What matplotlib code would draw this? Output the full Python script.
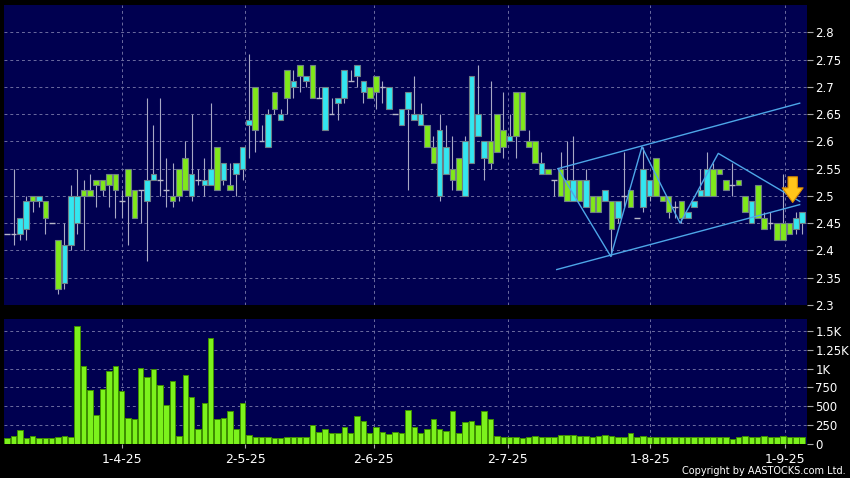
import matplotlib.pyplot as plt
import numpy as np

# daily candles (oldest first)
opens = [2.43, 2.43, 2.43, 2.44, 2.50, 2.49, 2.49, 2.45, 2.42, 2.34,
         2.41, 2.45, 2.51, 2.51, 2.53, 2.53, 2.54, 2.54, 2.49, 2.55,
         2.51, 2.51, 2.49, 2.53, 2.53, 2.51, 2.50, 2.55, 2.57, 2.50,
         2.53, 2.52, 2.52, 2.59, 2.53, 2.52, 2.54, 2.55, 2.63, 2.70,
         2.60, 2.59, 2.69, 2.64, 2.73, 2.70, 2.74, 2.71, 2.74, 2.68,
         2.62, 2.65, 2.67, 2.68, 2.71, 2.72, 2.69, 2.70, 2.72, 2.70,
         2.66, 2.65, 2.63, 2.66, 2.64, 2.63, 2.63, 2.59, 2.50, 2.54,
         2.55, 2.57, 2.50, 2.56, 2.61, 2.57, 2.60, 2.65, 2.62, 2.60,
         2.69, 2.69, 2.60, 2.60, 2.54, 2.55, 2.53, 2.55, 2.53, 2.49,
         2.53, 2.48, 2.50, 2.50, 2.49, 2.49, 2.46, 2.50, 2.51, 2.46,
         2.48, 2.50, 2.57, 2.50, 2.50, 2.48, 2.49, 2.46, 2.48, 2.50,
         2.50, 2.55, 2.55, 2.53, 2.52, 2.53, 2.50, 2.45, 2.52, 2.46,
         2.45, 2.45, 2.45, 2.45, 2.44, 2.45]
highs = [2.43, 2.55, 2.46, 2.50, 2.50, 2.50, 2.49, 2.45, 2.42, 2.45,
         2.52, 2.55, 2.53, 2.54, 2.53, 2.53, 2.54, 2.54, 2.51, 2.55,
         2.51, 2.51, 2.68, 2.63, 2.68, 2.57, 2.56, 2.55, 2.60, 2.65,
         2.55, 2.57, 2.67, 2.59, 2.56, 2.56, 2.56, 2.59, 2.76, 2.70,
         2.63, 2.66, 2.69, 2.66, 2.73, 2.73, 2.74, 2.72, 2.74, 2.70,
         2.70, 2.68, 2.68, 2.73, 2.73, 2.74, 2.71, 2.70, 2.72, 2.71,
         2.70, 2.65, 2.66, 2.69, 2.72, 2.67, 2.63, 2.61, 2.65, 2.63,
         2.61, 2.57, 2.61, 2.72, 2.74, 2.60, 2.71, 2.65, 2.69, 2.65,
         2.69, 2.69, 2.62, 2.60, 2.58, 2.55, 2.53, 2.58, 2.60, 2.61,
         2.53, 2.55, 2.50, 2.50, 2.51, 2.49, 2.49, 2.58, 2.51, 2.46,
         2.59, 2.53, 2.57, 2.50, 2.50, 2.49, 2.49, 2.47, 2.49, 2.55,
         2.58, 2.56, 2.55, 2.53, 2.56, 2.53, 2.50, 2.49, 2.52, 2.47,
         2.47, 2.45, 2.54, 2.45, 2.47, 2.47]
lows = [2.43, 2.41, 2.42, 2.42, 2.47, 2.48, 2.43, 2.45, 2.32, 2.33,
        2.40, 2.43, 2.40, 2.50, 2.48, 2.50, 2.48, 2.46, 2.46, 2.41,
        2.46, 2.45, 2.38, 2.53, 2.50, 2.48, 2.48, 2.49, 2.51, 2.49,
        2.52, 2.50, 2.52, 2.51, 2.52, 2.51, 2.50, 2.53, 2.57, 2.58,
        2.60, 2.59, 2.65, 2.64, 2.65, 2.68, 2.69, 2.70, 2.68, 2.68,
        2.62, 2.65, 2.64, 2.67, 2.71, 2.70, 2.67, 2.68, 2.66, 2.67,
        2.66, 2.65, 2.63, 2.51, 2.64, 2.63, 2.59, 2.56, 2.49, 2.54,
        2.51, 2.51, 2.50, 2.56, 2.61, 2.53, 2.55, 2.58, 2.57, 2.60,
        2.57, 2.62, 2.59, 2.56, 2.54, 2.54, 2.50, 2.50, 2.49, 2.49,
        2.49, 2.48, 2.47, 2.47, 2.49, 2.39, 2.45, 2.48, 2.48, 2.46,
        2.47, 2.49, 2.50, 2.49, 2.46, 2.46, 2.45, 2.46, 2.48, 2.50,
        2.50, 2.50, 2.54, 2.51, 2.50, 2.52, 2.47, 2.45, 2.46, 2.44,
        2.44, 2.42, 2.42, 2.43, 2.43, 2.43]
closes = [2.43, 2.43, 2.46, 2.49, 2.49, 2.50, 2.46, 2.45, 2.33, 2.41,
          2.50, 2.50, 2.50, 2.50, 2.52, 2.51, 2.52, 2.51, 2.49, 2.50,
          2.46, 2.51, 2.53, 2.54, 2.53, 2.51, 2.49, 2.50, 2.51, 2.54,
          2.53, 2.53, 2.55, 2.51, 2.56, 2.51, 2.56, 2.59, 2.64, 2.62,
          2.60, 2.65, 2.66, 2.65, 2.68, 2.71, 2.72, 2.72, 2.68, 2.68,
          2.70, 2.65, 2.68, 2.73, 2.71, 2.74, 2.71, 2.68, 2.69, 2.70,
          2.70, 2.65, 2.66, 2.69, 2.65, 2.65, 2.59, 2.56, 2.62, 2.59,
          2.53, 2.51, 2.60, 2.72, 2.65, 2.60, 2.56, 2.58, 2.59, 2.61,
          2.61, 2.62, 2.59, 2.56, 2.56, 2.54, 2.53, 2.50, 2.49, 2.53,
          2.49, 2.53, 2.47, 2.47, 2.51, 2.44, 2.49, 2.50, 2.48, 2.46,
          2.55, 2.53, 2.50, 2.49, 2.47, 2.48, 2.46, 2.47, 2.49, 2.51,
          2.55, 2.50, 2.54, 2.51, 2.52, 2.52, 2.47, 2.49, 2.46, 2.44,
          2.45, 2.42, 2.42, 2.43, 2.46, 2.47]
volumes = [80, 98, 178, 80, 102, 80, 80, 80, 93, 107,
           93, 1572, 1030, 720, 386, 728, 972, 1039, 702, 342,
           333, 1012, 888, 990, 781, 520, 839, 107, 919, 617,
           200, 546, 1412, 329, 342, 435, 200, 542, 115, 93,
           93, 84, 80, 80, 84, 84, 84, 84, 244, 151,
           200, 138, 138, 218, 147, 373, 302, 138, 226, 160,
           133, 151, 138, 453, 226, 138, 191, 333, 195, 164,
           435, 147, 293, 297, 253, 431, 333, 98, 84, 84,
           84, 80, 84, 107, 93, 93, 93, 120, 115, 115,
           102, 107, 93, 98, 111, 98, 93, 84, 147, 89,
           107, 93, 93, 93, 93, 93, 93, 93, 89, 89,
           89, 89, 89, 89, 58, 89, 98, 93, 93, 98,
           93, 93, 98, 89, 89, 89]

date_labels = ['1-4-25', '2-5-25', '2-6-25', '2-7-25', '1-8-25', '1-9-25']
date_pos = [18, 37.4, 57.6, 78.7, 101.1, 122.3]

price_ticks = [2.3, 2.35, 2.4, 2.45, 2.5, 2.55, 2.6, 2.65, 2.7, 2.75, 2.8]
vol_ticks = [0, 250, 500, 750, 1000, 1250, 1500]
vol_tick_labels = ['0', '250', '500', '750', '1K', '1.25K', '1.5K']

# trend lines drawn on the chart (candle index, price)
channel_top_x, channel_top_y = [86.6, 124.6], [2.55, 2.67]
channel_bot_x, channel_bot_y = [86.4, 124.6], [2.365, 2.484]
zigzag_x = [86.6, 94.9, 99.8, 105.8, 111.8, 124.6]
zigzag_y = [2.55, 2.389, 2.59, 2.45, 2.578, 2.49]
arrow_x, arrow_top, arrow_tip = 123.5, 2.535, 2.488

BG = '#000050'
UP = '#33E6F0'
DOWN = '#80E81A'
GRID = '#6C6CA0'

o = np.array(opens)
h = np.array(highs)
l = np.array(lows)
c = np.array(closes)
x = np.arange(len(o))

fig = plt.figure(figsize=(8.5, 4.78), dpi=100, facecolor='black')
ax = fig.add_axes([4/850, 1-305/478, 803/850, 300/478], facecolor=BG)
axv = fig.add_axes([4/850, 1-443.7/478, 803/850, 124.7/478], facecolor=BG)

for a in (ax, axv):
  for s in a.spines.values():
    s.set_visible(False)
  a.yaxis.tick_right()
  a.tick_params(axis='y', colors='#A8A8A8', labelcolor='white', labelsize=8.5,
                length=4, pad=2, direction='out')
  a.set_xticks(date_pos)
  a.set_xlim(-0.5, 125.75)
  a.grid(True, color=GRID, linestyle=(0, (3, 3)), linewidth=0.7)
  a.set_axisbelow(True)

ax.tick_params(axis='x', length=0, labelbottom=False)
axv.tick_params(axis='x', colors='#A8A8A8', labelcolor='white', labelsize=9,
                length=3, pad=4)
axv.set_xticklabels(date_labels)

# price panel
ax.set_ylim(2.3, 2.85)
ax.set_yticks(price_ticks)
ax.set_yticklabels([f"{v:g}" for v in price_ticks])

ax.vlines(x, l, h, color='#A8A8C4', linewidth=0.8, zorder=2)
doji = o == c
body = ~doji
colors = np.where(c > o, UP, DOWN)
ax.bar(x[body], np.abs(c - o)[body], bottom=np.minimum(o, c)[body], width=0.88,
       color=colors[body], edgecolor='#6E7F86', linewidth=0.8, zorder=3)
ax.hlines(o[doji], x[doji] - 0.45, x[doji] + 0.45, color='#B8B8C8',
          linewidth=1.0, zorder=3)

ax.plot(channel_top_x, channel_top_y, color='#4DA6E8', linewidth=1, zorder=4)
ax.plot(channel_bot_x, channel_bot_y, color='#4DA6E8', linewidth=1, zorder=4)
ax.plot(zigzag_x, zigzag_y, color='#4DA6E8', linewidth=1, zorder=4)

ax.annotate('', xy=(arrow_x, arrow_tip), xytext=(arrow_x, arrow_top),
            arrowprops=dict(arrowstyle='simple,head_width=1.0,head_length=0.7,tail_width=0.45',
                            fc='#FFC41A', ec='#D98A00', lw=0.8, mutation_scale=15,
                            shrinkA=0, shrinkB=0),
            zorder=5)

# volume panel
axv.set_ylim(0, 1660)
axv.set_yticks(vol_ticks)
axv.set_yticklabels(vol_tick_labels)
axv.bar(x, volumes, width=0.86, color='#7CF21C', edgecolor='#3F8F00',
        linewidth=0.7, zorder=3)

fig.text(846/850, 1-471/478, 'Copyright by AASTOCKS.com Ltd.', color='white',
         fontsize=7, ha='right', va='center')

fig.savefig('out.png', dpi=100, facecolor='black')
